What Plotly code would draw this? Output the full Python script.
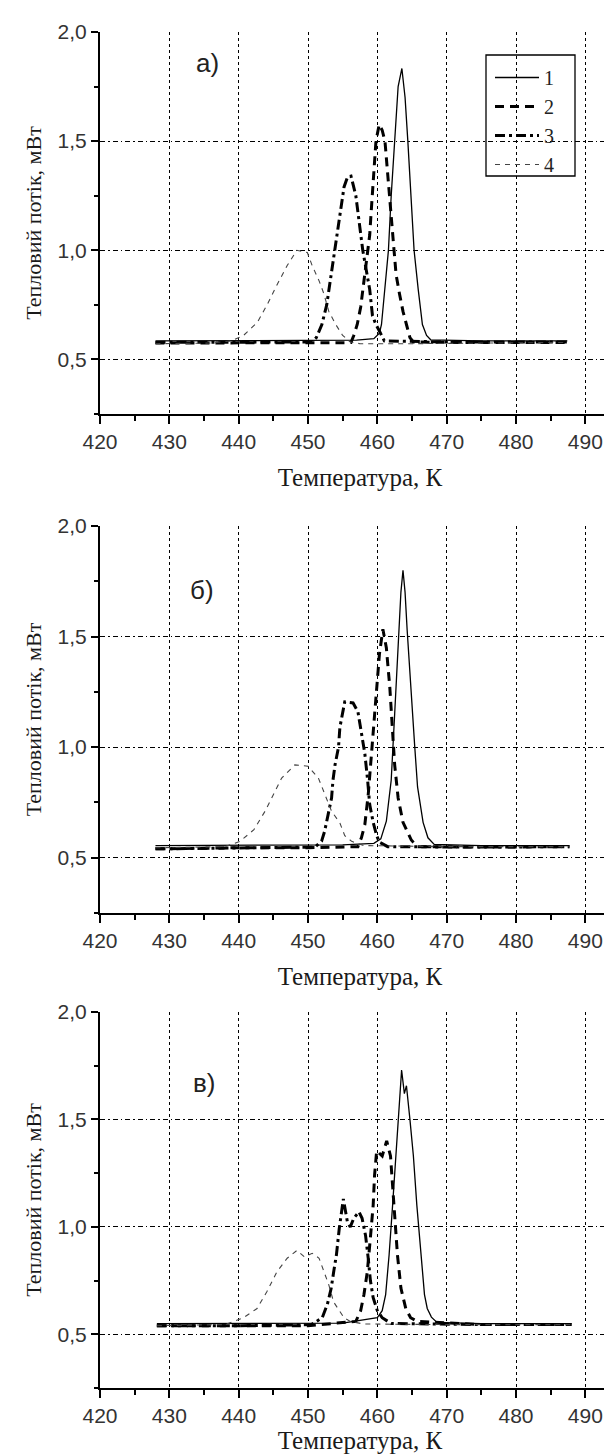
import plotly.graph_objects as go

# ---------------- data ----------------
SERIES_NAMES = ["1", "2", "3", "4"]
PANEL_LABELS = ["а)", "б)", "в)"]
X_TITLE = "Температура, К"
Y_TITLE = "Тепловий потік, мВт"
X_TICKS = [420, 430, 440, 450, 460, 470, 480, 490]
Y_TICKS = [0.5, 1.0, 1.5, 2.0]

# panel a
T_A1 = [428, 440, 450, 457, 459.5, 460.3, 460.6, 461.0, 461.6, 462.0, 462.5, 463.0, 463.54, 464.0, 464.4, 464.9, 465.3, 465.9, 466.5, 467.1, 467.7, 475, 487.4]
Q_A1 = [0.585, 0.585, 0.587, 0.588, 0.595, 0.62, 0.66, 0.8, 1.0, 1.25, 1.5, 1.75, 1.833, 1.7, 1.5, 1.25, 1.0, 0.82, 0.66, 0.61, 0.59, 0.585, 0.585]
T_A2 = [428, 440, 450, 456.2, 456.6, 457.1, 457.6, 458.1, 458.5, 458.9, 459.1, 459.5, 459.8, 460.27, 460.7, 461.1, 461.4, 461.7, 462.0, 462.4, 462.7, 463.2, 463.7, 464.2, 464.7, 465.2, 475, 487.4]
Q_A2 = [0.575, 0.575, 0.575, 0.577, 0.61, 0.66, 0.74, 0.86, 0.95, 1.07, 1.17, 1.35, 1.5, 1.576, 1.55, 1.5, 1.38, 1.27, 1.13, 1.01, 0.89, 0.80, 0.72, 0.66, 0.6, 0.58, 0.577, 0.578]
T_A3 = [428, 440, 450.5, 451.2, 452.0, 452.7, 453.2, 453.7, 454.2, 454.7, 455.2, 455.7, 456.2, 456.9, 457.4, 457.9, 458.4, 458.9, 459.3, 459.8, 460.3, 461.0, 470, 487.4]
Q_A3 = [0.578, 0.578, 0.58, 0.6, 0.66, 0.75, 0.86, 0.98, 1.07, 1.2, 1.29, 1.335, 1.34, 1.25, 1.13, 1.0, 0.91, 0.82, 0.70, 0.66, 0.63, 0.585, 0.58, 0.58]
T_A4 = [428, 436, 439.0, 440.7, 442.7, 444.1, 445.5, 447.0, 448.4, 449.9, 450.6, 451.6, 452.3, 453.0, 454.0, 455.0, 456.1, 457.5, 465, 475, 487.4]
Q_A4 = [0.572, 0.575, 0.585, 0.61, 0.67, 0.75, 0.84, 0.93, 1.0, 0.99, 0.93, 0.86, 0.80, 0.72, 0.66, 0.61, 0.58, 0.572, 0.572, 0.575, 0.578]

# panel b
T_B1 = [428, 440, 455, 459.5, 460.5, 461.3, 462.0, 462.5, 463.0, 463.4, 463.7, 464.0, 464.3, 464.9, 465.4, 465.8, 466.6, 467.3, 468.2, 475, 487.7]
Q_B1 = [0.555, 0.557, 0.558, 0.565, 0.585, 0.665, 0.85, 1.15, 1.45, 1.7, 1.80, 1.7, 1.53, 1.22, 1.0, 0.82, 0.66, 0.59, 0.56, 0.555, 0.555]
T_B2 = [428, 440, 450, 457.2, 457.7, 458.2, 458.7, 459.1, 459.5, 459.9, 460.3, 460.8, 461.3, 461.8, 462.1, 462.5, 463.0, 463.7, 464.9, 465.8, 475, 487.7]
Q_B2 = [0.54, 0.545, 0.545, 0.55, 0.59, 0.65, 0.79, 0.94, 1.12, 1.27, 1.42, 1.533, 1.45, 1.27, 1.12, 0.92, 0.77, 0.66, 0.58, 0.55, 0.548, 0.55]
T_B3 = [428, 440, 451.0, 451.96, 452.4, 452.9, 453.4, 453.6, 453.9, 454.4, 454.6, 455.3, 456.5, 457.2, 457.7, 458.2, 458.6, 458.9, 459.4, 459.9, 460.3, 461.5, 475, 487.7]
Q_B3 = [0.54, 0.545, 0.548, 0.575, 0.62, 0.695, 0.77, 0.85, 0.92, 1.0, 1.09, 1.205, 1.20, 1.16, 1.07, 0.97, 0.85, 0.74, 0.66, 0.6, 0.57, 0.55, 0.548, 0.55]
T_B4 = [428, 438, 440.2, 442.2, 443.8, 445.0, 446.2, 448.1, 450.0, 451.5, 452.4, 453.4, 454.6, 455.3, 456.3, 458, 470, 487.7]
Q_B4 = [0.545, 0.55, 0.574, 0.627, 0.71, 0.785, 0.86, 0.92, 0.914, 0.86, 0.785, 0.71, 0.657, 0.60, 0.574, 0.555, 0.55, 0.55]

# panel c
T_C1 = [428.2, 440, 455, 460.0, 460.7, 461.2, 461.7, 462.2, 462.65, 463.1, 463.5, 463.9, 464.2, 464.7, 465.2, 465.7, 466.3, 466.8, 467.2, 467.8, 468.6, 475, 488]
Q_C1 = [0.55, 0.55, 0.552, 0.577, 0.61, 0.685, 0.87, 1.10, 1.33, 1.56, 1.73, 1.62, 1.657, 1.5, 1.33, 1.1, 0.87, 0.685, 0.62, 0.58, 0.555, 0.55, 0.55]
T_C2 = [428.2, 440, 450, 456.9, 457.6, 458.07, 458.55, 459.0, 459.4, 459.6, 459.9, 460.7, 461.35, 461.9, 462.2, 462.5, 462.9, 463.4, 464.1, 464.8, 465.8, 475, 488]
Q_C2 = [0.54, 0.54, 0.54, 0.56, 0.61, 0.685, 0.79, 0.95, 1.10, 1.24, 1.354, 1.33, 1.40, 1.33, 1.18, 1.02, 0.87, 0.715, 0.62, 0.577, 0.56, 0.545, 0.545]
T_C3 = [428.2, 440, 450.5, 451.3, 452.05, 452.8, 453.35, 453.7, 454.1, 454.5, 454.8, 455.1, 455.7, 456.1, 456.6, 457.35, 457.8, 458.3, 458.7, 459.0, 459.4, 460.0, 460.7, 462, 475, 488]
Q_C3 = [0.54, 0.54, 0.545, 0.56, 0.577, 0.64, 0.715, 0.79, 0.87, 0.99, 1.07, 1.13, 1.02, 1.0, 1.04, 1.07, 1.04, 0.96, 0.85, 0.75, 0.67, 0.61, 0.577, 0.55, 0.545, 0.545]
T_C4 = [428.2, 438, 440.7, 442.65, 444.1, 445.5, 447.0, 448.4, 449.5, 450.6, 451.6, 452.3, 453.0, 453.7, 454.5, 455.2, 456.1, 458, 470, 488]
Q_C4 = [0.54, 0.545, 0.577, 0.62, 0.70, 0.79, 0.854, 0.89, 0.86, 0.877, 0.854, 0.79, 0.73, 0.65, 0.61, 0.577, 0.56, 0.548, 0.545, 0.545]

PANELS = [
    [(T_A1, Q_A1), (T_A2, Q_A2), (T_A3, Q_A3), (T_A4, Q_A4)],
    [(T_B1, Q_B1), (T_B2, Q_B2), (T_B3, Q_B3), (T_B4, Q_B4)],
    [(T_C1, Q_C1), (T_C2, Q_C2), (T_C3, Q_C3), (T_C4, Q_C4)],
]
LABEL_POS = [(435.5, 1.86), (434.7, 1.71), (435.0, 1.67)]

# ---------------- styles ----------------
W, H = 612, 1454
LINE_STYLES = [
    dict(color="black", width=1.3, dash="solid"),
    dict(color="black", width=3, dash="9px,6px"),
    dict(color="black", width=3, dash="10px,4px,3px,4px"),
    dict(color="#444", width=1.1, dash="5px,5px"),
]
X_DOMAIN = [92 / W, 1.0]
Y_DOMAINS_PX = [(24, 406), (518, 905), (1004, 1380)]
X_STANDOFF = [16, 16, 0]

fig = go.Figure()

for p, panel in enumerate(PANELS):
    xa = "x" if p == 0 else f"x{p + 1}"
    ya = "y" if p == 0 else f"y{p + 1}"
    for s, (t, q) in enumerate(panel):
        fig.add_trace(go.Scatter(
            x=t, y=q, mode="lines", name=SERIES_NAMES[s],
            line=LINE_STYLES[s], xaxis=xa, yaxis=ya,
            showlegend=(p == 0), legendrank=s + 1,
        ))
    lx, ly = LABEL_POS[p]
    fig.add_annotation(x=lx, y=ly, xref=xa, yref=ya, text=PANEL_LABELS[p],
                       showarrow=False,
                       font=dict(family="Liberation Sans, Arial", size=26, color="#222"))

tick_font = dict(family="Liberation Sans, Arial", size=21, color="#333")
x_title_font = dict(family="Liberation Serif, Times New Roman", size=25, color="#1a1a1a")
y_title_font = dict(family="Liberation Serif, Times New Roman", size=22, color="#1a1a1a")

layout = dict(
    width=W, height=H,
    margin=dict(l=0, r=0, t=0, b=0),
    paper_bgcolor="white", plot_bgcolor="white",
    separators=", ",
    showlegend=True,
    legend=dict(
        x=482 / W, y=1 - 50 / H, xanchor="left", yanchor="top",
        bgcolor="rgba(0,0,0,0)", borderwidth=0,
        font=dict(family="Liberation Serif, Times New Roman", size=20, color="#222"),
        itemwidth=44, tracegroupgap=0,
    ),
)

for p in range(3):
    sx = "" if p == 0 else str(p + 1)
    top_px, bot_px = Y_DOMAINS_PX[p]
    layout["xaxis" + sx] = dict(
        domain=X_DOMAIN, range=[420, 495], anchor="y" + sx,
        tickvals=X_TICKS, ticks="outside", ticklen=8, tickwidth=2, tickcolor="black",
        showline=True, linewidth=2, linecolor="black",
        showgrid=True, gridcolor="black", gridwidth=1, griddash="dot",
        zeroline=False, tickfont=tick_font,
        minor=dict(dtick=5, tick0=420, ticks="outside", ticklen=5, tickwidth=2,
                   tickcolor="black", showgrid=False),
        title=dict(text=X_TITLE, font=x_title_font, standoff=X_STANDOFF[p]),
        automargin=False,
    )
    layout["yaxis" + sx] = dict(
        domain=[1 - bot_px / H, 1 - top_px / H], range=[0.25, 2.0], anchor="x" + sx,
        tickvals=Y_TICKS, tickformat=".1f", ticks="outside", ticklen=7, tickwidth=2,
        tickcolor="black",
        showline=True, linewidth=2, linecolor="black",
        showgrid=True, gridcolor="black", gridwidth=1, griddash="5px,3px,1.5px,3px",
        zeroline=False, tickfont=tick_font,
        minor=dict(dtick=0.25, tick0=0.25, ticks="outside", ticklen=4, tickwidth=2,
                   tickcolor="black", showgrid=False),
        title=dict(text=Y_TITLE, font=y_title_font, standoff=10),
        automargin=False,
    )

fig.update_layout(**layout)

# legend frame
rect = dict(type="rect", xref="paper", yref="paper",
            x0=478 / W, x1=567 / W, y0=1 - 168 / H, y1=1 - 47 / H,
            line=dict(color="black", width=1.3), fillcolor="white")
try:
    fig.add_shape(layer="between", **rect)
except Exception:
    fig.add_shape(layer="above", **rect)

fig.write_html("out.html")
